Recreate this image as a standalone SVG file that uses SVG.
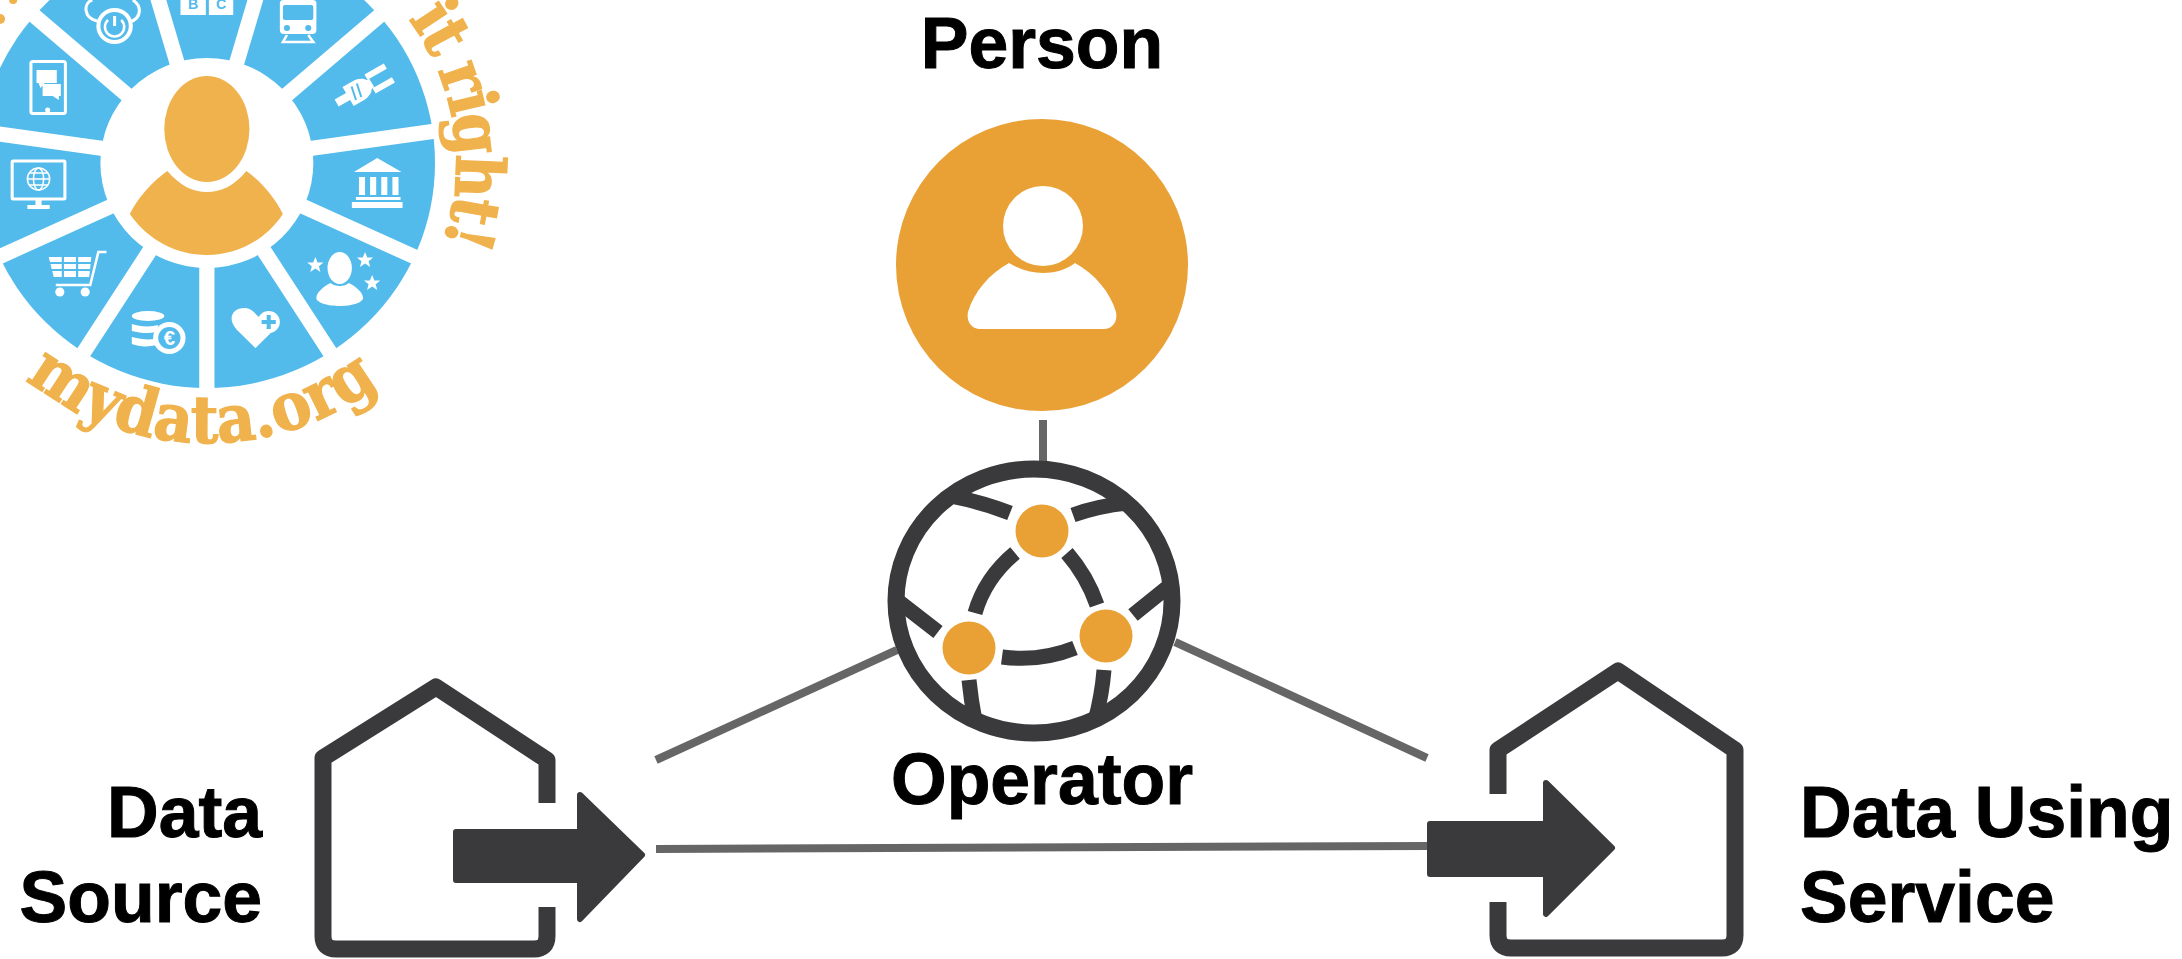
<svg xmlns="http://www.w3.org/2000/svg" width="2182" height="959" viewBox="0 0 2182 959">
<style>
.lbl{font-family:"Liberation Sans",Arial,sans-serif;font-weight:700;font-size:71.5px;fill:#000;stroke:#000;stroke-width:1}
.logo{font-family:"DejaVu Serif Condensed","DejaVu Serif",serif;font-weight:700;font-size:66px;fill:#F0B24C;stroke:#F0B24C;stroke-width:1.2}
.conn{stroke:#666;stroke-width:8;fill:none}
.house{fill:none;stroke:#3a3a3c;stroke-width:17;stroke-linejoin:round}
.arrow{fill:#3a3a3c;stroke:#3a3a3c;stroke-width:6;stroke-linejoin:round}
.spoke{fill:none;stroke:#3a3a3c;stroke-width:15}
.node{fill:#E9A136}
.ic{fill:#fff}
.ico{fill:none;stroke:#fff;stroke-width:3}
.bl{fill:#53BBEB}
</style>
<defs>
<path id="arcB" d="M24 377.5A280 280 0 0 0 418 343"/>
<path id="arcR" d="M362 -25A246 246 0 0 1 417 286"/>
<polygon id="star" points="0,-8 2.2,-2.5 8,-2.5 3.5,1.2 5,7 0,3.6 -5,7 -3.5,1.2 -8,-2.5 -2.2,-2.5"/>
</defs>
<rect width="2182" height="959" fill="#fff"/>

<g id="connectors">
<line class="conn" x1="656" y1="760" x2="897" y2="650"/>
<line class="conn" x1="1175" y1="642" x2="1427" y2="758"/>
<line class="conn" x1="656" y1="849" x2="1430" y2="846"/>
<line class="conn" x1="1043" y1="420" x2="1043" y2="465"/>
</g>

<g id="logo" transform="scale(1.014 1)">
<circle cx="204" cy="163" r="225" class="bl"/>
<path d="M204 163V398M204 163L331 361M204 163L418 261M204 163L437 130M204 163L382 9M204 163L270 -62M204 163L138 -62M204 163L26 9M204 163L-29 130M204 163L-10 261M204 163L77 361" stroke="#fff" stroke-width="15" fill="none"/>
<circle cx="204" cy="163" r="105" fill="#fff"/>
<ellipse cx="204" cy="129" rx="42" ry="53" fill="#F0B24C"/>
<path d="M165 171C178 186 190 192 204 192C218 192 231 186 243 171C258 182 270 196 279 214C262 240 234 255 204 255C174 255 146 240 128 214C137 196 150 182 165 171Z" fill="#F0B24C"/>
<text class="logo"><textPath href="#arcB" startOffset="2">mydata.org</textPath></text>
<text class="logo" letter-spacing="-3" word-spacing="-3"><textPath href="#arcR" startOffset="60">it right!</textPath></text>
<circle cx="0" cy="19" r="5" fill="#F0B24C"/><circle cx="13" cy="0" r="4" fill="#F0B24C"/>
<!-- tablet -->
<rect class="ico" x="30.500" y="61.500" width="34" height="52" rx="2"/>
<rect class="ic" x="36" y="70" width="20" height="13"/><path class="ic" d="M38 83h6l-4 5z"/>
<rect class="ic" x="42" y="84" width="18" height="12"/><path class="ic" d="M52 96h6v4z"/>
<circle class="ic" cx="47" cy="110" r="2.500"/>
<!-- monitor -->
<rect class="ico" x="12" y="161" width="52" height="38" rx="1"/>
<rect class="ic" x="35" y="200" width="6" height="6"/><rect class="ic" x="27" y="205" width="22" height="4"/>
<g fill="none" stroke="#fff" stroke-width="1.500"><circle cx="38" cy="179" r="11"/><ellipse cx="38" cy="179" rx="5" ry="11"/><path d="M27 179H49M29 173H47M29 185H47"/></g>
<!-- cart -->
<path class="ic" d="M48 257H90L88 277H53Z"/>
<path d="M48 263H90M50 270H89M62 256V278M76 256V278" stroke="#53BBEB" stroke-width="2.200" fill="none"/>
<path d="M105 252H97L89 285H55" fill="none" stroke="#fff" stroke-width="2.500"/>
<circle class="ic" cx="59" cy="292" r="4.500"/><circle class="ic" cx="84" cy="292" r="4.500"/>
<!-- coins -->
<ellipse class="ic" cx="146" cy="316" rx="16" ry="5"/>
<path class="ic" d="M130 324C138 327 150 327 156 325L154 332C146 334 138 333 130 331ZM130 337C138 339 146 340 152 339L155 345C146 347 138 347 130 344Z"/>
<circle class="ic" cx="167" cy="338" r="16"/><circle class="bl" cx="167" cy="338" r="11"/>
<text x="167" y="345" text-anchor="middle" font-family="Liberation Sans,sans-serif" font-size="20" font-weight="700" fill="#fff">€</text>
<!-- heart -->
<path class="ic" d="M252 348L233 329C224 319 229 308 241 308C246 308 250 311 253 315L262 326Z"/>
<path class="ic" d="M252 348L233 329L253 315L270 330Z"/>
<circle class="ic" cx="265" cy="322" r="11"/>
<path d="M265 315V329M258 322H272" stroke="#53BBEB" stroke-width="4" fill="none"/>
<!-- starred person -->
<ellipse class="ic" cx="335" cy="268" rx="12" ry="16"/>
<path class="ic" d="M326 283C330 287 340 287 344 283C352 287 358 293 358 298C358 303 346 306 335 306C324 306 312 303 312 298C312 293 318 287 326 283Z"/>
<use href="#star" class="ic" x="311" y="265"/><use href="#star" class="ic" x="360" y="260"/><use href="#star" class="ic" x="367" y="283"/>
<!-- bank -->
<path class="ic" d="M372 158L396 172H349Z"/>
<path class="ic" d="M354 177h6v18h-6zM365 177h6v18h-6zM376 177h6v18h-6zM387 177h6v18h-6zM351 197h44v3h-44zM347 202h50v6h-50z"/>
<!-- plug -->
<g transform="rotate(-30 358 88)">
<path class="ic" d="M328 84H342V92H328Z"/>
<path class="ic" d="M341 77H352C360 77 364 81 365 83H368V93H365C364 95 360 99 352 99H341Z"/>
<path class="ic" d="M366 77H388V83H366ZM366 93H388V99H366Z"/>
<path d="M349 81L346 95M355 81L352 95" stroke="#53BBEB" stroke-width="2" fill="none"/>
</g>
<!-- train -->
<path class="ic" d="M276 3Q276 0 280 0H308Q312 0 312 3V30Q312 34 308 34H280Q276 34 276 30Z"/>
<rect class="bl" x="279" y="5" width="30" height="15" rx="2"/>
<circle class="bl" cx="283" cy="28" r="3"/><circle class="bl" cx="304" cy="28" r="3"/>
<path d="M283 35L279 42H309L304 35" fill="none" stroke="#fff" stroke-width="2.500"/>
<!-- books -->
<rect class="ic" x="178" y="-4" width="25" height="19"/><rect class="ic" x="206" y="-4" width="24" height="19"/>
<text x="190.500" y="9" text-anchor="middle" font-family="Liberation Sans,sans-serif" font-size="14" font-weight="700" fill="#53BBEB">B</text>
<text x="218" y="9" text-anchor="middle" font-family="Liberation Sans,sans-serif" font-size="14" font-weight="700" fill="#53BBEB">C</text>
<!-- cloud -->
<path class="ico" d="M91 0C82 3 82 18 96 21M131 0C140 6 140 18 128 22" stroke-width="3.500"/>
<circle class="ic" cx="113" cy="26" r="18"/><circle class="bl" cx="113" cy="26" r="14"/>
<path d="M113 16V26" stroke="#fff" stroke-width="3" fill="none"/>
<path d="M106.500 20A9.500 9.500 0 1 0 119.500 20" stroke="#fff" stroke-width="2.500" fill="none"/>
</g>

<g id="person">
<circle class="node" cx="1042" cy="265" r="146"/>
<circle cx="1043" cy="226" r="40" fill="#fff"/>
<path d="M1009 263C1020 270 1032 273 1043 273C1054 273 1066 270 1075 263C1095 274 1110 292 1116 312C1118 322 1112 329 1104 329H980C972 329 966 322 968 312C974 292 989 274 1009 263Z" fill="#fff"/>
<text class="lbl" x="1042" y="68" text-anchor="middle">Person</text>
</g>

<g id="operator">
<ellipse cx="1034" cy="601" rx="138" ry="132" fill="#fff" stroke="#3a3a3c" stroke-width="17"/>
<path class="spoke" d="M955 497Q985 503 1010 513M1073 515Q1098 506 1127 503M898 601L938 632M1133 615L1169 586M969 680Q971 700 975 721M1104 670Q1102 695 1095 721M1015 553Q985 578 975 613M1067 553Q1087 576 1097 605M1002 657Q1040 662 1075 648"/>
<circle class="node" cx="1042" cy="531" r="26.500"/>
<circle class="node" cx="969" cy="648" r="26.500"/>
<circle class="node" cx="1106" cy="636" r="26.500"/>
<text class="lbl" x="1042" y="804" text-anchor="middle">Operator</text>
</g>

<g id="data-source">
<path class="house" d="M547 803V760L436 687L323 758V936Q323 949 336 949H534Q547 949 547 936V907"/>
<path class="arrow" d="M456 832H580V795L642 855L580 919V880H456Z"/>
<text class="lbl" x="262" y="837" text-anchor="end">Data</text>
<text class="lbl" x="262" y="922" text-anchor="end">Source</text>
</g>

<g id="data-using-service">
<path class="house" d="M1498 794V750L1618 671L1735 750V935Q1735 948 1722 948H1511Q1498 948 1498 935V902"/>
<path class="arrow" d="M1430 824H1546V783L1612 848L1546 914V874H1430Z"/>
<text class="lbl" x="1800" y="837">Data Using</text>
<text class="lbl" x="1800" y="922">Service</text>
</g>
</svg>
